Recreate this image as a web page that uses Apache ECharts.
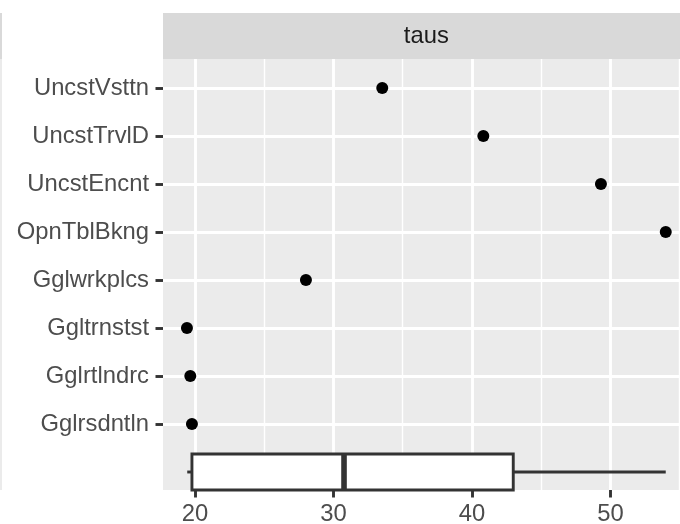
<!DOCTYPE html>
<html>
<head>
<meta charset="utf-8">
<script src="https://cdn.jsdelivr.net/npm/echarts@6/dist/echarts.min.js"></script>
<style>
html,body{margin:0;padding:0;background:#fff;}
#chart{width:680px;height:524px;}
</style>
</head>
<body>
<div id="chart"></div>
<script>
// ---- data ----
const categories = ['UncstVsttn','UncstTrvlD','UncstEncnt','OpnTblBkng','Gglwrkplcs','Ggltrnstst','Gglrtlndrc','Gglrsdntln'];
const taus = [33.52, 40.82, 49.31, 53.99, 28.01, 19.42, 19.66, 19.78];
const boxCategory = ' ';
const boxStats = [19.44, 19.78, 30.76, 42.98, 53.99]; // min, Q1, median, Q3, max
const majorTicks = [20, 30, 40, 50];
const minorTicks = [25, 35, 45, 55];
const xRange = [17.69, 55.72];
const stripLabel = 'taus';

const FONT = 'Liberation Sans, Arial, sans-serif';
const FS = 23.8;
const yCats = categories.concat([boxCategory]);
const nCat = categories.length;
const PANEL_W = 526.7;

const chart = echarts.init(document.getElementById('chart'), null, {renderer: 'canvas'});

function renderBox(params, api) {
  const y = api.value(0);
  const pMin = api.coord([api.value(1), y]);
  const pQ1 = api.coord([api.value(2), y]);
  const pMed = api.coord([api.value(3), y]);
  const pQ3 = api.coord([api.value(4), y]);
  const pMax = api.coord([api.value(5), y]);
  const h = api.size([0, 1])[1] * 0.75;
  const cy = pMed[1];
  const st = {stroke: '#333333', lineWidth: 2.9, fill: null};
  return {
    type: 'group',
    children: [
      {type: 'line', shape: {x1: pMin[0], y1: cy, x2: pQ1[0], y2: cy}, style: st},
      {type: 'line', shape: {x1: pQ3[0], y1: cy, x2: pMax[0], y2: cy}, style: st},
      {type: 'rect', shape: {x: pQ1[0], y: cy - h / 2, width: pQ3[0] - pQ1[0], height: h},
        style: {fill: '#ffffff', stroke: '#333333', lineWidth: 2.9}},
      {type: 'line', shape: {x1: pMed[0], y1: cy - h / 2, x2: pMed[0], y2: cy + h / 2},
        style: {stroke: '#333333', lineWidth: 5.6}}
    ]
  };
}

const option = {
  animation: false,
  backgroundColor: '#ffffff',
  textStyle: {fontFamily: FONT},
  graphic: [
    {type: 'rect', shape: {x: 0, y: 13, width: 2, height: 46}, style: {fill: '#D9D9D9'}, z: -1},
    {type: 'rect', shape: {x: 0, y: 59, width: 2, height: 431}, style: {fill: '#EBEBEB'}, z: -1},
    {type: 'rect', shape: {x: 163, y: 13, width: PANEL_W, height: 46}, style: {fill: '#D9D9D9'}, z: 0},
    {type: 'text', x: 163 + PANEL_W / 2, y: 36.5, z: 1,
      style: {text: stripLabel, fill: '#1A1A1A', font: FS + 'px ' + FONT, align: 'center', verticalAlign: 'middle'}}
  ],
  grid: [
    {left: 163, width: PANEL_W, top: 59, bottom: 34, show: true, backgroundColor: '#EBEBEB', borderWidth: 0,
      containLabel: false, outerBoundsMode: 'none'},
    {left: 163, width: PANEL_W, top: 88, bottom: 52, show: false, containLabel: false, outerBoundsMode: 'none'}
  ],
  xAxis: [
    {
      type: 'value', gridIndex: 0, min: xRange[0], max: xRange[1],
      axisLine: {show: true, lineStyle: {color: 'rgba(0,0,0,0)'}},
      axisTick: {show: true, length: 7.5, lineStyle: {color: '#333333', width: 2.9}, customValues: majorTicks},
      axisLabel: {show: true, color: '#4D4D4D', fontSize: FS, fontFamily: FONT, margin: 12, customValues: majorTicks},
      splitLine: {show: true, lineStyle: {color: '#ffffff', width: 2.9}},
      z: 1
    },
    {
      type: 'value', gridIndex: 0, min: xRange[0], max: xRange[1],
      axisLine: {show: false},
      axisTick: {show: false, customValues: minorTicks},
      axisLabel: {show: false, customValues: minorTicks},
      splitLine: {show: true, lineStyle: {color: '#ffffff', width: 1.45}},
      z: 0
    },
    {
      type: 'value', gridIndex: 1, min: xRange[0], max: xRange[1], show: false
    }
  ],
  yAxis: [
    {type: 'value', gridIndex: 0, min: 0, max: 1, show: false},
    {
      type: 'category', gridIndex: 1, data: yCats, inverse: true, boundaryGap: false,
      axisLine: {show: false},
      axisTick: {show: true, length: 7.5, interval: (i) => i < nCat, lineStyle: {color: '#333333', width: 2.9}},
      axisLabel: {show: true, interval: 0, color: '#4D4D4D', fontSize: FS, fontFamily: FONT, margin: 14},
      splitLine: {show: true, interval: (i) => i < nCat, lineStyle: {color: '#ffffff', width: 2.9}}
    }
  ],
  series: [
    {
      type: 'custom', xAxisIndex: 2, yAxisIndex: 1,
      renderItem: renderBox,
      dimensions: ['cat', 'min', 'q1', 'med', 'q3', 'max'],
      encode: {y: 0, x: [1, 2, 3, 4, 5]},
      data: [[boxCategory].concat(boxStats)],
      clip: false, z: 3, silent: true
    },
    {
      type: 'scatter', xAxisIndex: 2, yAxisIndex: 1,
      symbol: 'circle', symbolSize: 12,
      itemStyle: {color: '#000000', opacity: 1},
      data: categories.map((c, i) => [taus[i], c]),
      clip: false, z: 4, silent: true
    }
  ]
};
chart.setOption(option);
</script>
</body>
</html>
